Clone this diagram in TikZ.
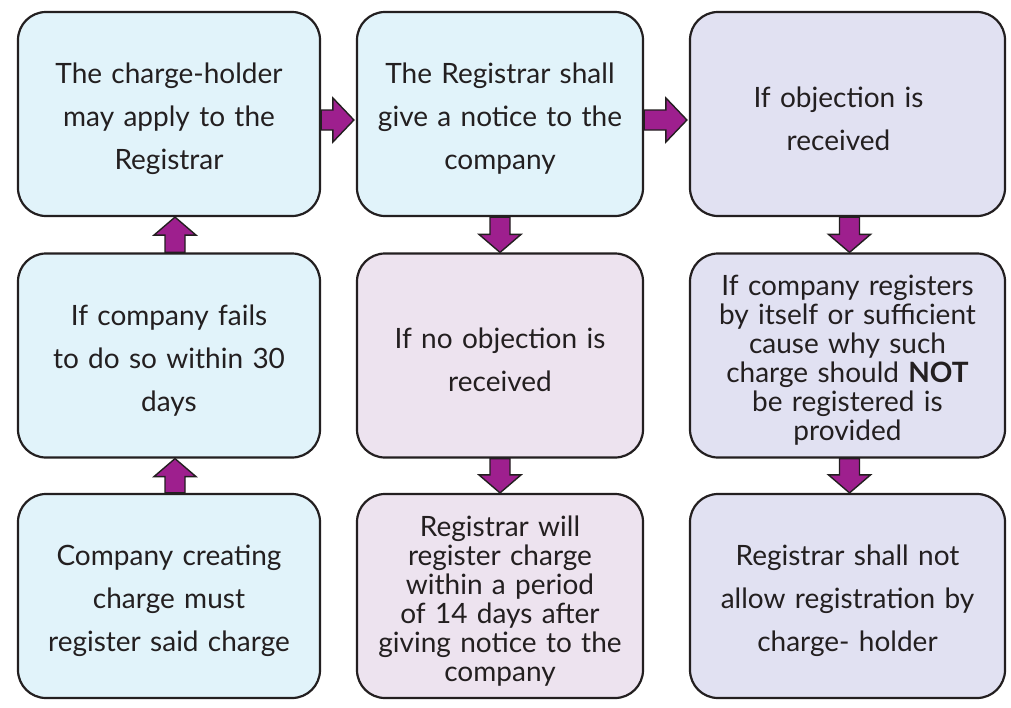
\documentclass[tikz,border=0pt]{standalone}
\usepackage{fontspec}
\setmainfont{Lato}
\usetikzlibrary{calc}

\definecolor{boxline}{HTML}{231F20}
\definecolor{paleblue}{HTML}{E1F3FA}
\definecolor{palepink}{HTML}{EDE3EF}
\definecolor{palelilac}{HTML}{E1E1F2}
\definecolor{plum}{HTML}{9E1F8E}

\tikzset{
  box/.style={draw=boxline, line width=2.2pt, rounded corners=28pt, align=center,
    inner sep=0pt, minimum height=204pt, text=boxline,
    execute at begin node={\rule{0pt}{30pt}}},
  colone/.style={minimum width=302pt, text width=296pt},
  coltwo/.style={minimum width=286pt, text width=282pt},
  colthree/.style={minimum width=315pt, text width=310pt},
  bigtext/.style={font=\fontsize{28}{43}\selectfont},
  smalltext/.style={font=\fontsize{28}{29}\selectfont},
  fat/.style={draw=boxline, line width=1.4pt, fill=plum, line join=miter}
}

% fat arrows between boxes: tail point, then the box the tip touches
\newcommand{\rfat}[2]{\draw[fat] let \p1=(#1), \p2=(#2) in
  (\x1,\y1+10pt) -- (\x2-23pt,\y1+10pt) -- (\x2-23pt,\y1+22pt) -- (\x2-2pt,\y1)
  -- (\x2-23pt,\y1-22pt) -- (\x2-23pt,\y1-10pt) -- (\x1,\y1-10pt) -- cycle;}
\newcommand{\ufat}[2]{\draw[fat] let \p1=(#1), \p2=(#2) in
  (\x1-10pt,\y1) -- (\x1-10pt,\y2-18pt) -- (\x1-21pt,\y2-18pt) -- (\x1,\y2)
  -- (\x1+21pt,\y2-18pt) -- (\x1+10pt,\y2-18pt) -- (\x1+10pt,\y1) -- cycle;}
\newcommand{\dfat}[2]{\draw[fat] let \p1=(#1), \p2=(#2) in
  (\x1-10pt,\y1) -- (\x1-10pt,\y2+18pt) -- (\x1-21pt,\y2+18pt) -- (\x1,\y2)
  -- (\x1+21pt,\y2+18pt) -- (\x1+10pt,\y2+18pt) -- (\x1+10pt,\y1) -- cycle;}

\begin{document}
\begin{tikzpicture}[x=1pt,y=-1pt]
\useasboundingbox[fill=white] (0,0) rectangle (1011,707);

% first column
\node[box, colone, bigtext, fill=paleblue] (apply) at (169,114) {The charge-holder\\ may apply to the\\ Registrar};
\node[box, colone, bigtext, fill=paleblue] (fails) at (169,355.5) {If company fails\\ to do so within 30\\ days};
\node[box, colone, bigtext, fill=paleblue] (create) at (169,596) {Company creating\\ charge must\\ register said charge};

% second column
\node[box, coltwo, bigtext, fill=paleblue] (notice) at (500,114) {The Registrar shall\\ give a notice to the\\ company};
\node[box, coltwo, bigtext, fill=palepink] (noobj) at (500,355.5) {If no objection is\\ received};
\node[box, coltwo, smalltext, fill=palepink] (register) at (500,596) {Registrar will\\ register charge\\ within a period\\ of 14 days after\\ giving notice to the\\ company};

% third column
\node[box, colthree, bigtext, fill=palelilac] (obj) at (847.5,114) {If objection is\makebox[18pt]{}\\ received\makebox[18pt]{}};
\node[box, colthree, smalltext, fill=palelilac] (cause) at (847.5,355.5) {If company registers\\ by itself or sufficient\\ cause why such\\ charge should \textbf{NOT}\\ be registered is\\ provided};
\node[box, colthree, bigtext, fill=palelilac] (refuse) at (847.5,596) {Registrar shall not\\ allow registration by\\ charge- holder};

% arrows
\ufat{[xshift=6pt]create.north}{fails.south}
\ufat{[xshift=6pt]fails.north}{apply.south}
\rfat{[yshift=-6pt]apply.east}{notice.west}
\rfat{[yshift=-6pt]notice.east}{obj.west}
\dfat{notice.south}{noobj.north}
\dfat{noobj.south}{register.north}
\dfat{[xshift=2pt]obj.south}{cause.north}
\dfat{[xshift=2pt]cause.south}{refuse.north}
\end{tikzpicture}
\end{document}
